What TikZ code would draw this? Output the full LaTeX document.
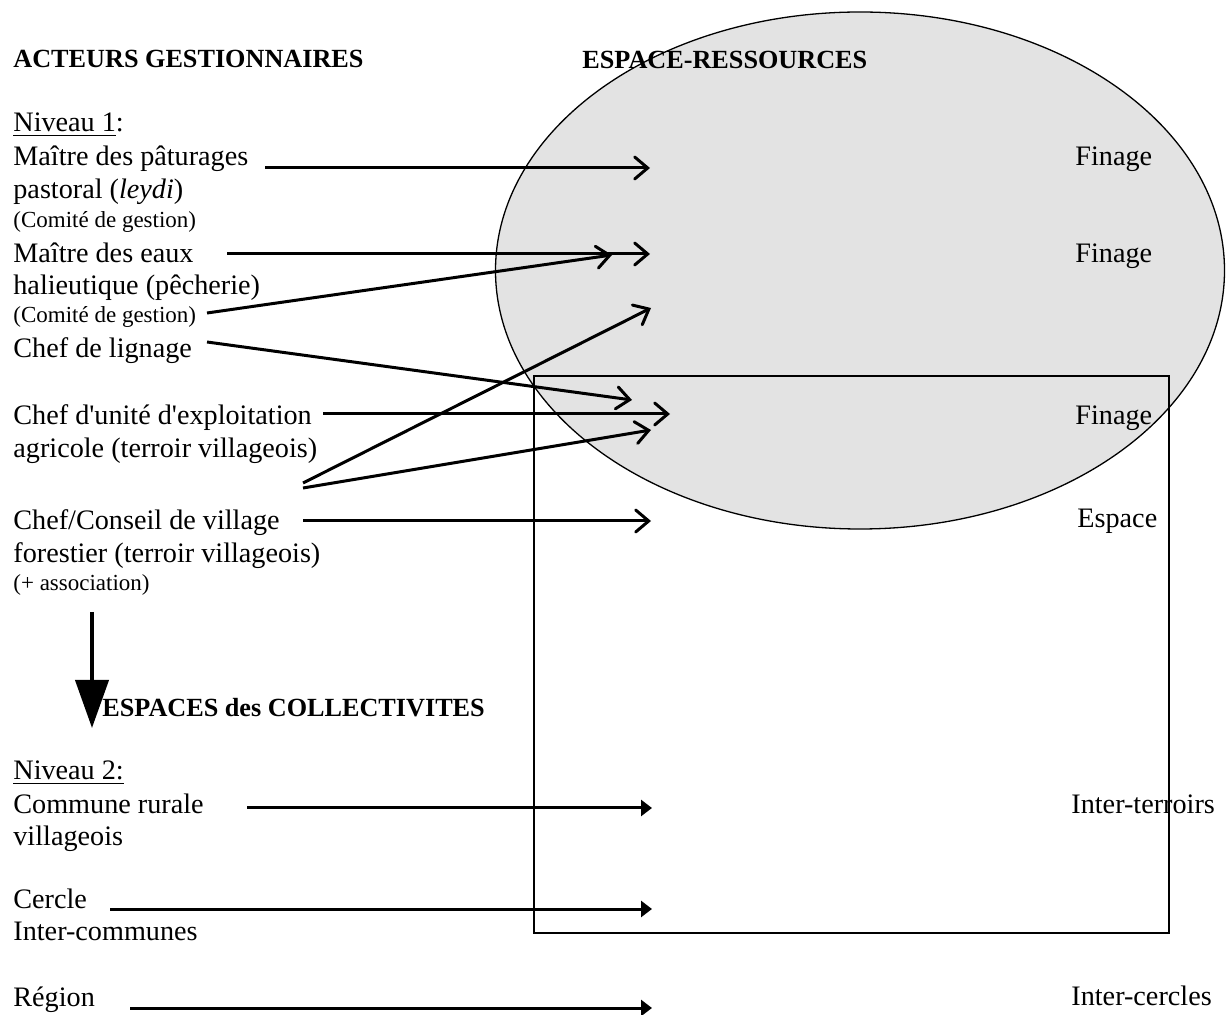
\documentclass[tikz,border=0pt]{standalone}
\usepackage{fontspec}
\setmainfont{Liberation Serif}[Ligatures=TeXOff]
\usetikzlibrary{arrows.meta}
\definecolor{zone}{HTML}{E3E3E3}
\begin{document}
\begin{tikzpicture}[x=0.5pt,y=-0.5pt,
  body/.style={anchor=base west, inner sep=0pt, font=\fontsize{14.1}{16}\selectfont},
  small/.style={anchor=base west, inner sep=0pt, font=\fontsize{11.5}{13}\selectfont},
  heading/.style={anchor=base west, inner sep=0pt, font=\fontsize{13.1}{15}\selectfont\bfseries},
  link/.style={line width=1.5pt, -{Straight Barb[length=6.5pt,width=11pt,line cap=round]}},
  level/.style={line width=1.5pt, -{Triangle[length=5.5pt,width=8pt]}},
  down/.style={line width=2pt, -{Triangle[length=24pt,width=16.5pt]}}]
\useasboundingbox (0,0) rectangle (1227,1015);

% resource space: shaded ellipse
\fill[zone] (860,270.5) ellipse [x radius=182.25pt, y radius=129.25pt];

% headings
\node[heading] (h1) at (13,68) {ACTEURS GESTIONNAIRES};
\node[heading] (h2) at (582,69) {ESPACE-RESSOURCES};
\node[heading] (h3) at (102,717) {ESPACES des COLLECTIVITES};

% level 1 actors
\node[body]  (n1)  at (13,132) {\underline{Niveau 1}:};
\node[body]  (a1)  at (13,166) {Maître des pâturages};
\node[body]  (a1b) at (13,199) {pastoral (\textit{leydi})};
\node[small] (a1c) at (13,228) {(Comité de gestion)};
\node[body]  (a2)  at (13,263) {Maître des eaux};
\node[body]  (a2b) at (13,295) {halieutique (pêcherie)};
\node[small] (a2c) at (13,323) {(Comité de gestion)};
\node[body]  (a3)  at (13,358) {Chef de lignage};
\node[body]  (a4)  at (13,425) {Chef d'unité d'exploitation};
\node[body]  (a4b) at (13,458) {agricole (terroir villageois)};
\node[body]  (a5)  at (13,530) {Chef/Conseil de village};
\node[body]  (a5b) at (13,563) {forestier (terroir villageois)};
\node[small] (a5c) at (13,591) {(+ association)};

% level 2 actors
\node[body] (n2)  at (13,780)  {\underline{Niveau 2:}};
\node[body] (b1)  at (13,813)  {Commune rurale};
\node[body] (b1b) at (13,845)  {villageois};
\node[body] (b2)  at (13,908)  {Cercle};
\node[body] (b2b) at (13,940)  {Inter-communes};
\node[body] (b3)  at (13,1006) {Région};

% spaces
\node[body] (r1) at (1075,166)  {Finage};
\node[body] (r2) at (1075,263)  {Finage};
\node[body] (r3) at (1075,425)  {Finage};
\node[body] (r4) at (1077,528)  {Espace};
\node[body] (r5) at (1071,813)  {Inter-terroirs};
\node[body] (r6) at (1071,1005) {Inter-cercles};

% outlines
\draw[line width=0.65pt] (860,270.5) ellipse [x radius=182.25pt, y radius=129.25pt];
\draw[line width=0.75pt] (534,376) rectangle (1169,933);

% connector ends
\coordinate (s1) at (265,168);  \coordinate (t1) at (650,168);
\coordinate (s2) at (227,254);  \coordinate (t2) at (650,254);
\coordinate (s3) at (207,313);  \coordinate (t3) at (612,255);
\coordinate (s4) at (207,342);  \coordinate (t4) at (632,400);
\coordinate (s5) at (323,414);  \coordinate (t5) at (670,414);
\coordinate (s6) at (303,483);  \coordinate (t6) at (651,308);
\coordinate (s7) at (303,488);  \coordinate (t7) at (651,430);
\coordinate (s8) at (303,521);  \coordinate (t8) at (651,521);
\coordinate (s9) at (247,808);  \coordinate (t9) at (652,808);
\coordinate (s10) at (110,909); \coordinate (t10) at (652,909);
\coordinate (s11) at (130,1008);\coordinate (t11) at (652,1008);
\coordinate (d1) at (92,612);   \coordinate (d2) at (92,728);

% level 1 links
\draw[link] (s1) -- (t1);
\draw[link] (s2) -- (t2);
\draw[link] (s3) -- (t3);
\draw[link] (s4) -- (t4);
\draw[link] (s5) -- (t5);
\draw[link] (s6) -- (t6);
\draw[link] (s7) -- (t7);
\draw[link] (s8) -- (t8);

% level change
\draw[down] (d1) -- (d2);

% level 2 links
\draw[level] (s9) -- (t9);
\draw[level] (s10) -- (t10);
\draw[level] (s11) -- (t11);
\end{tikzpicture}
\end{document}
